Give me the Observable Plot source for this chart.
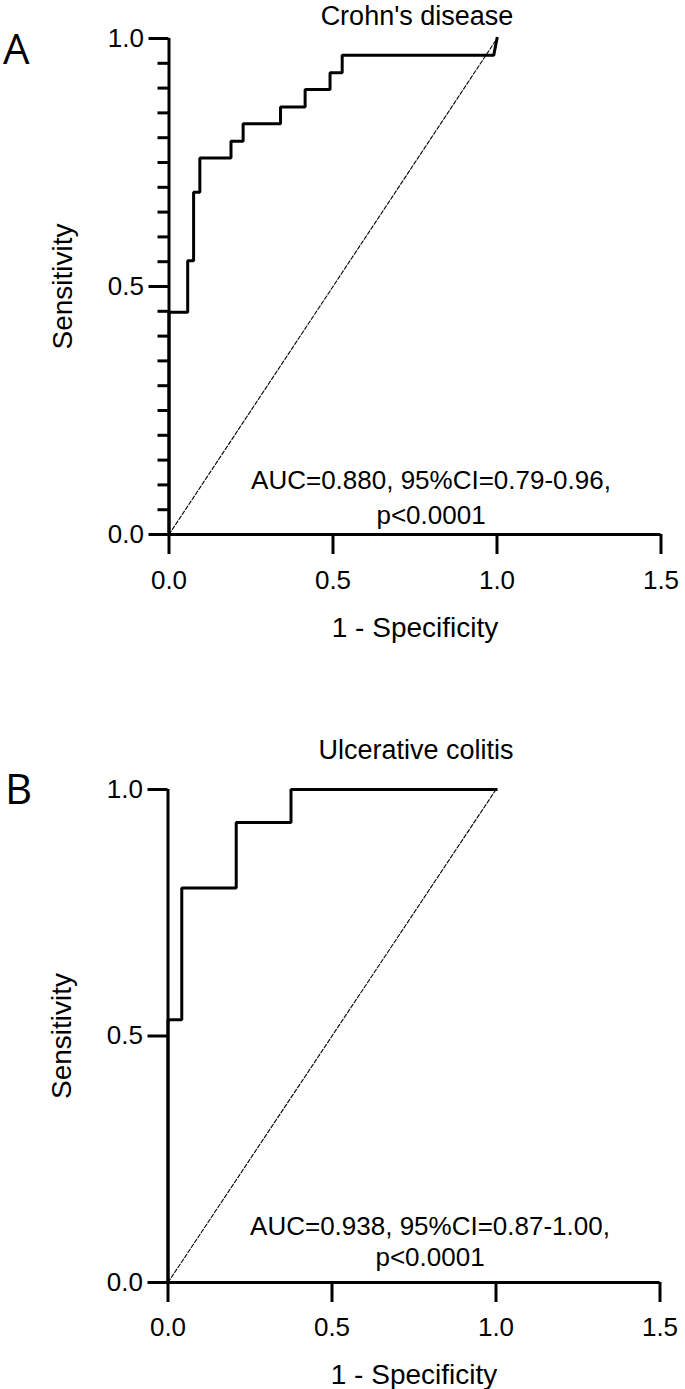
<!DOCTYPE html>
<html><head><meta charset="utf-8">
<script src="https://cdn.jsdelivr.net/npm/d3@7"></script>
<script src="https://cdn.jsdelivr.net/npm/@observablehq/plot@0.6"></script>
<style>
body{margin:0;background:#fff;}
#fig{position:relative;width:685px;height:1389px;background:#fff;}
#fig svg{position:absolute;left:0;}
</style></head><body>
<div id="fig"></div>
<script>
// ---- data ----
const xTicks = [0, 0.5, 1, 1.5];
const yMajorTicks = [0, 0.5, 1];
const yMinorTicksA = [0.05, 0.1, 0.15, 0.2, 0.25, 0.3, 0.35, 0.4, 0.45, 0.55, 0.6, 0.65, 0.7, 0.75, 0.8, 0.85, 0.9, 0.95];

const cdFpr = [0, 0, 0.057, 0.057, 0.075, 0.075, 0.094, 0.094, 0.189, 0.189, 0.226, 0.226, 0.340, 0.340, 0.415, 0.415, 0.491, 0.491, 0.528, 0.528, 0.99, 1.0];
const cdTpr = [0, 0.448, 0.448, 0.552, 0.552, 0.690, 0.690, 0.759, 0.759, 0.793, 0.793, 0.828, 0.828, 0.862, 0.862, 0.897, 0.897, 0.931, 0.931, 0.966, 0.966, 1.0];

const ucFpr = [0, 0, 0.042, 0.042, 0.208, 0.208, 0.375, 0.375, 1.0];
const ucTpr = [0, 0.533, 0.533, 0.8, 0.8, 0.933, 0.933, 1.0, 1.0];

const refFpr = [0, 1];
const refTpr = [0, 1];

const titles = ["Crohn's disease", "Ulcerative colitis"];
const letters = ["A", "B"];
const aucLines = ["AUC=0.880, 95%CI=0.79-0.96,", "AUC=0.938, 95%CI=0.87-1.00,"];
const pLines = ["p<0.0001", "p<0.0001"];
const xLabel = "1 - Specificity";
const yLabel = "Sensitivity";

const FONT = "'Liberation Sans', Arial, sans-serif";

function panel(o) {
  const curve = o.fpr.map((x, i) => ({x, y: o.tpr[i]}));
  const ref = refFpr.map((x, i) => ({x, y: refTpr[i]}));
  const marks = [
    Plot.line(ref, {x: "x", y: "y", stroke: "#000", strokeWidth: 1.1, strokeDasharray: "4,2"}),
    Plot.line(curve, {x: "x", y: "y", stroke: "#000", strokeWidth: 3, strokeLinejoin: "miter", strokeLinecap: "square"}),
    Plot.ruleY([0], {stroke: "#000", strokeWidth: 3}),
    Plot.ruleX([0], {stroke: "#000", strokeWidth: 3}),
    Plot.axisX({ticks: xTicks, tickSize: 20, tickPadding: o.xPad, strokeWidth: 3, tickFormat: d3.format(".1f"), label: null, fontSize: 26}),
    Plot.axisY({ticks: yMajorTicks, tickSize: 20, tickPadding: 5, strokeWidth: 3, tickFormat: d3.format(".1f"), label: null, fontSize: 26}),
  ];
  if (o.minor) marks.push(Plot.axisY({ticks: o.minor, tickSize: 11, strokeWidth: 3, tickFormat: () => "", label: null}));
  marks.push(
    Plot.text([xLabel], {text: d => d, frameAnchor: "bottom", dy: o.xLabDy, lineAnchor: "middle", fontSize: 28}),
    Plot.text([yLabel], {text: d => d, frameAnchor: "left", textAnchor: "middle", dx: -106, rotate: -90, lineAnchor: "middle", fontSize: 28}),
    Plot.text([o.title], {text: d => d, frameAnchor: "top", dx: 2, dy: o.titleDy, lineAnchor: "middle", fontSize: 27}),
    Plot.text([o.auc], {text: d => d, frameAnchor: "bottom", dx: 16, dy: o.aucDy, lineAnchor: "middle", fontSize: 26}),
    Plot.text([o.p], {text: d => d, frameAnchor: "bottom", dx: 16, dy: o.pDy, lineAnchor: "middle", fontSize: 26}),
    Plot.text([o.letter], {text: d => d, frameAnchor: "top-left", textAnchor: "start", dx: o.letterDx, dy: o.letterDy, lineAnchor: "middle", fontSize: 42, fontFamily: "'Open Sans', sans-serif"})
  );
  const svg = Plot.plot({
    width: 685, height: o.height,
    marginTop: o.mt, marginBottom: o.mb, marginLeft: o.ml, marginRight: o.mr,
    x: {domain: [0, 1.5]},
    y: {domain: [0, 1]},
    style: {fontFamily: FONT, fontSize: "26px", color: "#000", background: "transparent", overflow: "visible"},
    marks
  });
  svg.style.top = o.top + "px";
  return svg;
}

const fig = document.getElementById("fig");
fig.appendChild(panel({
  fpr: cdFpr, tpr: cdTpr, minor: yMinorTicksA, title: titles[0], auc: aucLines[0], p: pLines[0], letter: letters[0],
  top: 0, height: 690, mt: 38, mb: 156, ml: 168.5, mr: 24.5,
  xPad: 16, xLabDy: 94, titleDy: -22, aucDy: -54, pDy: -19, letterDx: -166, letterDy: 12
}));
fig.appendChild(panel({
  fpr: ucFpr, tpr: ucTpr, minor: null, title: titles[1], auc: aucLines[1], p: pLines[1], letter: letters[1],
  top: 690, height: 699, mt: 99, mb: 107, ml: 167.5, mr: 25.5,
  xPad: 15, xLabDy: 93, titleDy: -39, aucDy: -56, pDy: -25, letterDx: -163, letterDy: 1
}));
</script>
</body></html>
